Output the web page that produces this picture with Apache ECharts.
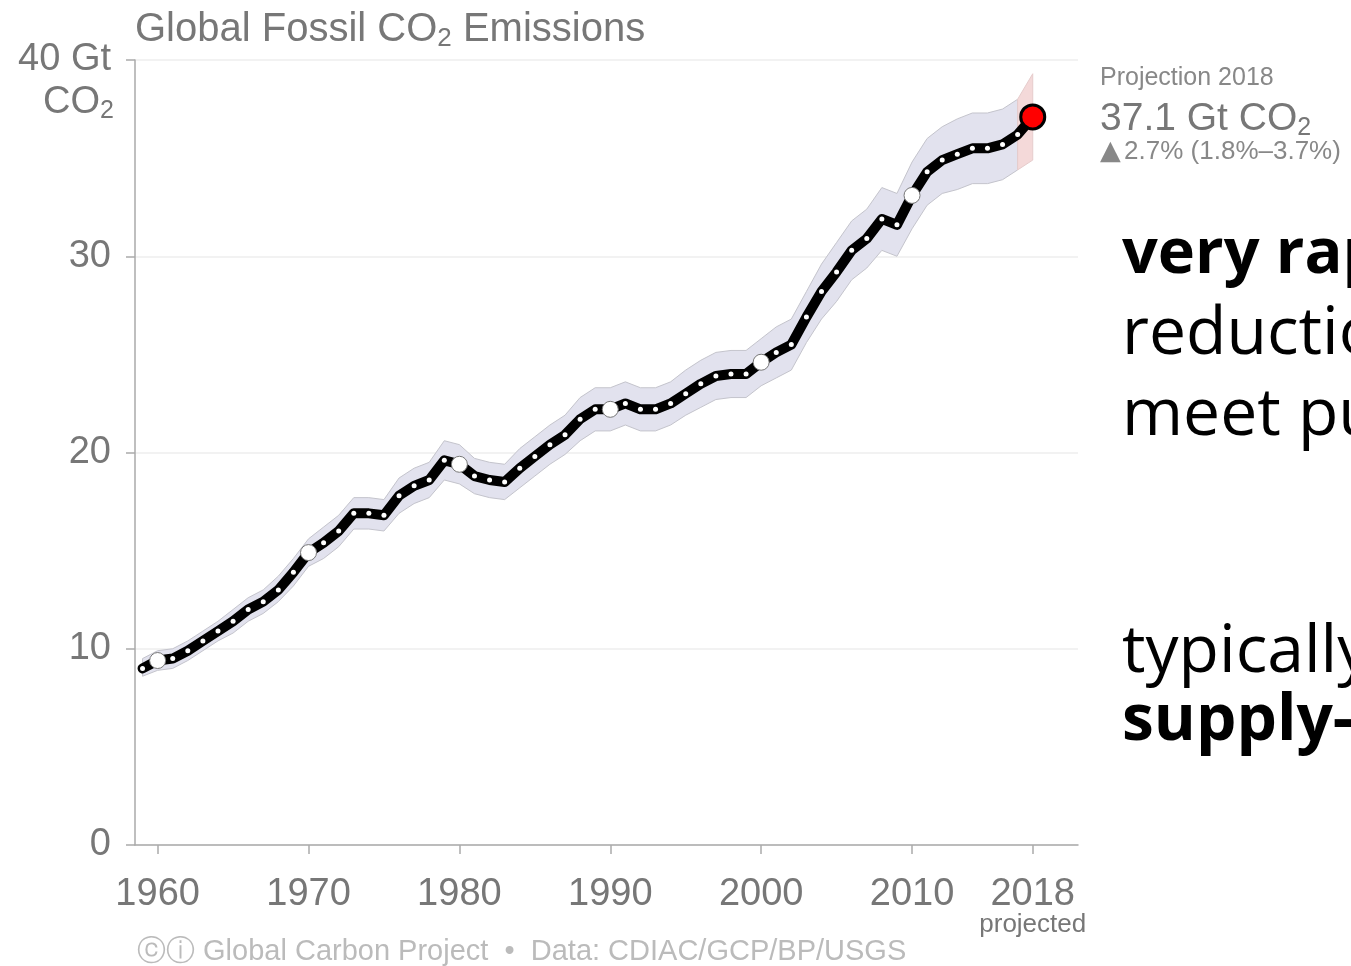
<!DOCTYPE html>
<html>
<head>
<meta charset="utf-8">
<script src="https://cdn.jsdelivr.net/npm/echarts@6/dist/echarts.min.js"></script>
<style>
  html, body { margin: 0; padding: 0; background: #fff; }
  #chart { width: 1351px; height: 966px; }
</style>
</head>
<body>
<div id="chart"></div>
<script>
// global fossil CO2, Gt CO2 per year
const years = [1959, 1960, 1961, 1962, 1963, 1964, 1965, 1966, 1967, 1968,
  1969, 1970, 1971, 1972, 1973, 1974, 1975, 1976, 1977, 1978,
  1979, 1980, 1981, 1982, 1983, 1984, 1985, 1986, 1987, 1988,
  1989, 1990, 1991, 1992, 1993, 1994, 1995, 1996, 1997, 1998,
  1999, 2000, 2001, 2002, 2003, 2004, 2005, 2006, 2007, 2008,
  2009, 2010, 2011, 2012, 2013, 2014, 2015, 2016, 2017, 2018];
const emissions = [9.0, 9.4, 9.5, 9.9, 10.4, 10.9, 11.4, 12.0, 12.4, 13.0,
  13.9, 14.9, 15.4, 16.0, 16.9, 16.9, 16.8, 17.8, 18.3, 18.6,
  19.6, 19.4, 18.8, 18.6, 18.5, 19.2, 19.8, 20.4, 20.9, 21.7,
  22.2, 22.2, 22.5, 22.2, 22.2, 22.5, 23.0, 23.5, 23.9, 24.0,
  24.0, 24.6, 25.1, 25.5, 26.9, 28.2, 29.2, 30.3, 30.9, 31.9,
  31.6, 33.1, 34.3, 34.9, 35.2, 35.5, 35.5, 35.7, 36.2, 37.1];
// uncertainty band edges, 1959-2017
const bandLow = [8.6, 8.9, 9.0, 9.4, 9.9, 10.4, 10.8, 11.4, 11.8, 12.4,
  13.2, 14.2, 14.6, 15.2, 16.1, 16.1, 16.0, 16.9, 17.4, 17.7,
  18.6, 18.4, 17.9, 17.7, 17.6, 18.2, 18.8, 19.4, 19.9, 20.6,
  21.1, 21.1, 21.4, 21.1, 21.1, 21.4, 21.9, 22.3, 22.7, 22.8,
  22.8, 23.4, 23.8, 24.2, 25.6, 26.8, 27.7, 28.8, 29.4, 30.3,
  30.0, 31.4, 32.6, 33.2, 33.4, 33.7, 33.7, 33.9, 34.4];
const bandHigh = [9.5, 9.9, 10.0, 10.4, 10.9, 11.4, 12.0, 12.6, 13.0, 13.7,
  14.6, 15.6, 16.2, 16.8, 17.7, 17.7, 17.6, 18.7, 19.2, 19.5,
  20.6, 20.4, 19.7, 19.5, 19.4, 20.2, 20.8, 21.4, 21.9, 22.8,
  23.3, 23.3, 23.6, 23.3, 23.3, 23.6, 24.2, 24.7, 25.1, 25.2,
  25.2, 25.8, 26.4, 26.8, 28.2, 29.6, 30.7, 31.8, 32.4, 33.5,
  33.2, 34.8, 36.0, 36.6, 37.0, 37.3, 37.3, 37.5, 38.0];
// projection range 2017 -> 2018
const projYears = [2017, 2018];
const projLow = [34.4, 34.9];
const projHigh = [38.0, 39.3];
const xTicks = [1960, 1970, 1980, 1990, 2000, 2010, 2018];
const decades = [1960, 1970, 1980, 1990, 2000, 2010];

const gray = '#777';
const font = '"Liberation Sans", Arial, sans-serif';
const slideFont = '"Open Sans", "Noto Sans", sans-serif';

let chartDom = document.getElementById('chart');
let myChart = echarts.init(chartDom);

let bandYears = years.slice(0, bandLow.length);

// one polygon for a band: upper edge forward, lower edge back
function bandRenderer(xs, lows, highs, fill, stroke) {
  return function (params, api) {
    if (params.dataIndex !== 0) return null;
    let pts = [];
    for (let i = 0; i < xs.length; i++) pts.push(api.coord([xs[i], highs[i]]));
    for (let i = xs.length - 1; i >= 0; i--) pts.push(api.coord([xs[i], lows[i]]));
    return {
      type: 'polygon',
      shape: {points: pts},
      style: {fill: fill, stroke: stroke, lineWidth: 1}
    };
  };
}

let lineData = years.map((y, i) => {
  if (y === 2018) {
    return {value: [y, emissions[i]], symbolSize: 24,
      itemStyle: {color: '#ff0000', borderColor: '#000', borderWidth: 3}};
  }
  if (decades.indexOf(y) >= 0) {
    return {value: [y, emissions[i]], symbolSize: 16,
      itemStyle: {color: '#fff', borderColor: '#777', borderWidth: 1}};
  }
  return {value: [y, emissions[i]], symbolSize: 5,
    itemStyle: {color: '#fff', borderWidth: 0}};
});

let option = {
  animation: false,
  backgroundColor: '#fff',
  grid: {left: 135, right: 273, top: 60, bottom: 121},
  xAxis: {
    type: 'value',
    min: 1958.5,
    max: 2021,
    splitLine: {show: false},
    axisLine: {lineStyle: {color: '#aaa', width: 1.5}},
    axisTick: {show: true, length: 9, customValues: xTicks, lineStyle: {color: '#aaa', width: 1.5}},
    axisLabel: {
      customValues: xTicks,
      color: gray, fontFamily: font, fontSize: 38, margin: 30, lineHeight: 40,
      formatter: function (v) {
        return v === 2018 ? '2018\n{p|projected}' : String(v);
      },
      rich: {p: {fontFamily: font, fontSize: 26, color: gray, lineHeight: 20}}
    }
  },
  yAxis: {
    type: 'value',
    min: 0,
    max: 40,
    interval: 10,
    axisLine: {show: true, lineStyle: {color: '#aaa', width: 1.5}},
    axisTick: {show: true, length: 9, lineStyle: {color: '#aaa', width: 1.5}},
    splitLine: {lineStyle: {color: '#eee', width: 1.5}},
    axisLabel: {
      color: gray, fontFamily: font, fontSize: 38, margin: 24,
      formatter: function (v) { return v === 40 ? '40 Gt' : String(v); }
    }
  },
  graphic: [
    {
      type: 'text', left: 135, top: 10,
      style: {
        text: '{a|Global Fossil CO}{s|2}{a| Emissions}',
        rich: {
          a: {fontFamily: font, fontSize: 40, fill: gray, lineHeight: 44, verticalAlign: 'middle'},
          s: {fontFamily: font, fontSize: 26, fill: gray, lineHeight: 26, verticalAlign: 'bottom'}
        }
      }
    },
    {
      type: 'text', right: 1351 - 114, top: 84,
      style: {
        text: '{a|CO}{s|2}',
        align: 'right',
        rich: {
          a: {fontFamily: font, fontSize: 38, fill: gray, lineHeight: 42, verticalAlign: 'middle'},
          s: {fontFamily: font, fontSize: 25, fill: gray, lineHeight: 25, verticalAlign: 'bottom'}
        }
      }
    },
    {
      type: 'text', left: 1100, top: 66,
      style: {text: 'Projection 2018', fontFamily: font, fontSize: 25, fill: '#888'}
    },
    {
      type: 'text', left: 1100, top: 100,
      style: {
        text: '{a|37.1 Gt CO}{s|2}',
        rich: {
          a: {fontFamily: font, fontSize: 39, fill: gray, lineHeight: 42, verticalAlign: 'middle'},
          s: {fontFamily: font, fontSize: 25, fill: gray, lineHeight: 25, verticalAlign: 'bottom'}
        }
      }
    },
    {
      type: 'text', left: 1100, top: 138,
      style: {
        text: '{t|▲} {a|2.7% (1.8%–3.7%)}',
        rich: {
          t: {fontFamily: '"DejaVu Sans", sans-serif', fontSize: 27, fill: '#888', lineHeight: 28, verticalAlign: 'middle'},
          a: {fontFamily: font, fontSize: 26, fill: '#888', lineHeight: 28, verticalAlign: 'middle'}
        }
      }
    },
    {
      type: 'text', left: 137, top: 937,
      style: {text: 'ⓒⓘ Global Carbon Project  •  Data: CDIAC/GCP/BP/USGS',
        fontFamily: font, fontSize: 29, fill: '#bbb'}
    },
    {
      type: 'text', left: 1122, top: 224,
      style: {text: 'very rapid', fontFamily: slideFont, fontWeight: 'bold', fontSize: 63, fill: '#000'}
    },
    {
      type: 'text', left: 1122, top: 302,
      style: {text: 'reductions', fontFamily: slideFont, fontSize: 66, fill: '#000'}
    },
    {
      type: 'text', left: 1122, top: 383,
      style: {text: 'meet public', fontFamily: slideFont, fontSize: 66, fill: '#000'}
    },
    {
      type: 'text', left: 1122, top: 620,
      style: {text: 'typically', fontFamily: slideFont, fontSize: 66, fill: '#000'}
    },
    {
      type: 'text', left: 1122, top: 690,
      style: {text: 'supply-side', fontFamily: slideFont, fontWeight: 'bold', fontSize: 64, fill: '#000'}
    }
  ],
  series: [
    {
      name: 'uncertainty',
      type: 'custom',
      silent: true,
      data: bandYears.map((y, i) => [y, bandLow[i], bandHigh[i]]),
      encode: {x: 0, y: [1, 2]},
      renderItem: bandRenderer(bandYears, bandLow, bandHigh, '#e2e2ee', '#c4c4cc'),
      z: 1
    },
    {
      name: 'projection range',
      type: 'custom',
      silent: true,
      data: projYears.map((y, i) => [y, projLow[i], projHigh[i]]),
      encode: {x: 0, y: [1, 2]},
      renderItem: bandRenderer(projYears, projLow, projHigh, '#f4d9d9', '#e6cccc'),
      z: 1
    },
    {
      name: 'Global Fossil CO2',
      type: 'line',
      data: lineData,
      symbol: 'circle',
      showSymbol: true,
      lineStyle: {color: '#000', width: 10, join: 'round', cap: 'round'},
      z: 3
    }
  ]
};

option && myChart.setOption(option);
</script>
</body>
</html>
